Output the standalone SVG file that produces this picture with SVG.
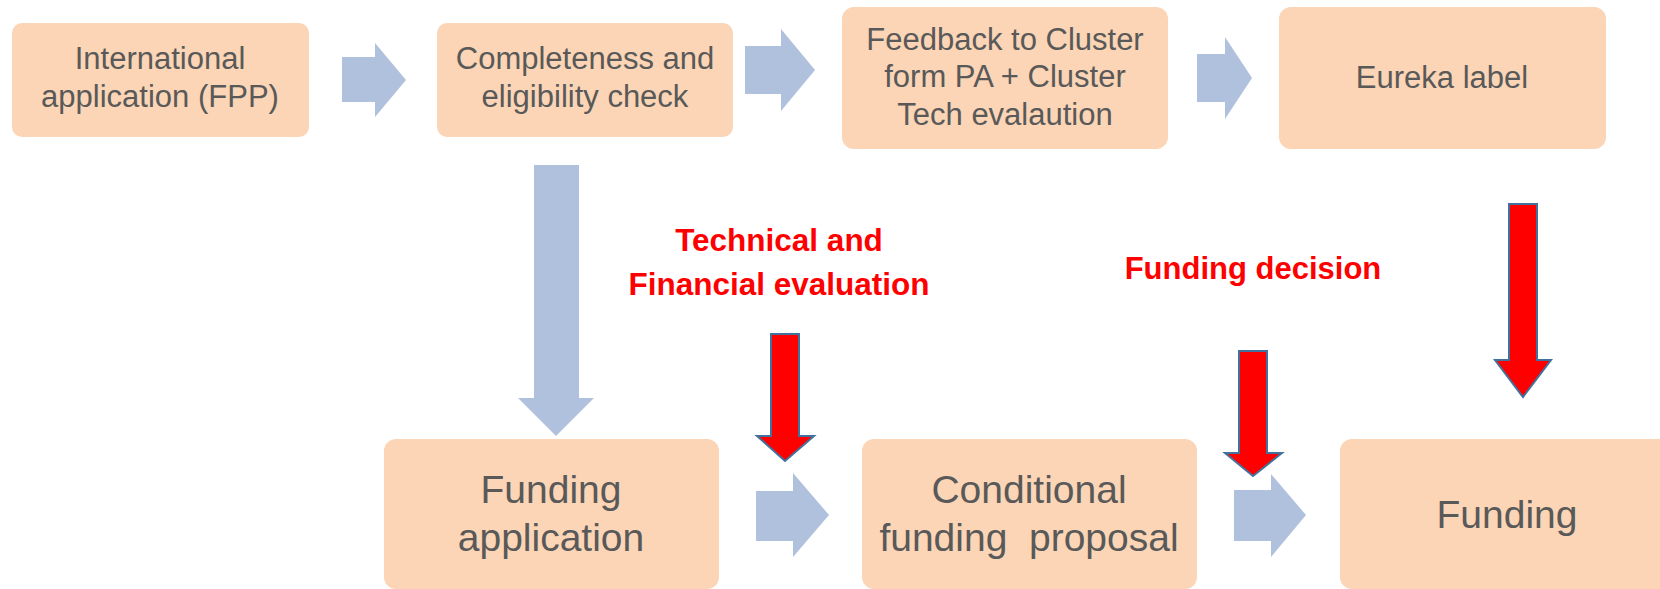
<svg xmlns="http://www.w3.org/2000/svg" width="1660" height="589" viewBox="0 0 1660 589">
<style>
.box{fill:#FBD5B5;}
.t{font-family:"Liberation Sans",Arial,sans-serif;fill:#595959;text-anchor:middle;white-space:pre;}
.s{font-size:31px;}
.l{font-size:39px;}
.lab{font-family:"Liberation Sans",Arial,sans-serif;font-weight:bold;font-size:31px;fill:#FF0000;text-anchor:middle;}
.blue{fill:#B0C1DE;}
.red{fill:#FF0000;stroke:#41719C;stroke-width:2;stroke-linejoin:miter;}
</style>
<rect width="1660" height="589" fill="#FFFFFF"/>
<g id="connectors">
<polygon class="blue" points="342,57 375,57 375,43 406,80 375,117 375,102 342,102"/>
<polygon class="blue" points="745,46 781,46 781,29 815,70 781,111 781,94 745,94"/>
<polygon class="blue" points="1197,54 1225,54 1225,37 1252,78 1225,119 1225,102 1197,102"/>
<polygon class="blue" points="534,165 579,165 579,398 594,398 556,436 518,398 534,398"/>
<polygon class="blue" points="756,491 793,491 793,473 829,515 793,557 793,541 756,541"/>
<polygon class="blue" points="1234,490 1271,490 1271,474 1306,515 1271,557 1271,541 1234,541"/>
<polygon class="red" points="771,334 799,334 799,436 814,436 785,461 757,436 771,436"/>
<polygon class="red" points="1239,351 1267,351 1267,453 1282,453 1253,476 1225,453 1239,453"/>
<polygon class="red" points="1509,204 1537,204 1537,360 1551,360 1523,397 1495,360 1509,360"/>
</g>
<g id="label-tech">
<text class="lab" x="779" y="251" style="font-size:31.5px">Technical and</text>
<text class="lab" x="779" y="295" style="font-size:31.5px">Financial evaluation</text>
</g>
<g id="label-decision">
<text class="lab" x="1253" y="279">Funding decision</text>
</g>
<g id="node-international">
<rect class="box" x="12" y="23" width="297" height="114" rx="10"/>
<text class="t s" x="160" y="69">International</text>
<text class="t s" x="160" y="107">application (FPP)</text>
</g>
<g id="node-completeness">
<rect class="box" x="437" y="23" width="296" height="114" rx="10"/>
<text class="t s" x="585" y="69">Completeness and</text>
<text class="t s" x="585" y="107">eligibility check</text>
</g>
<g id="node-feedback">
<rect class="box" x="842" y="7" width="326" height="142" rx="12"/>
<text class="t s" x="1005" y="50">Feedback to Cluster</text>
<text class="t s" x="1005" y="87">form PA + Cluster</text>
<text class="t s" x="1005" y="125">Tech evalaution</text>
</g>
<g id="node-eureka">
<rect class="box" x="1279" y="7" width="327" height="142" rx="12"/>
<text class="t s" x="1442" y="88">Eureka label</text>
</g>
<g id="node-funding-application">
<rect class="box" x="384" y="439" width="335" height="150" rx="12"/>
<text class="t l" x="551" y="503">Funding</text>
<text class="t l" x="551" y="551">application</text>
</g>
<g id="node-conditional">
<rect class="box" x="862" y="439" width="335" height="150" rx="12"/>
<text class="t l" x="1029" y="503">Conditional</text>
<text class="t l" x="1029" y="551">funding  proposal</text>
</g>
<g id="node-funding">
<rect class="box" x="1340" y="439" width="345" height="150" rx="12"/>
<text class="t l" x="1507" y="528">Funding</text>
</g>
</svg>
